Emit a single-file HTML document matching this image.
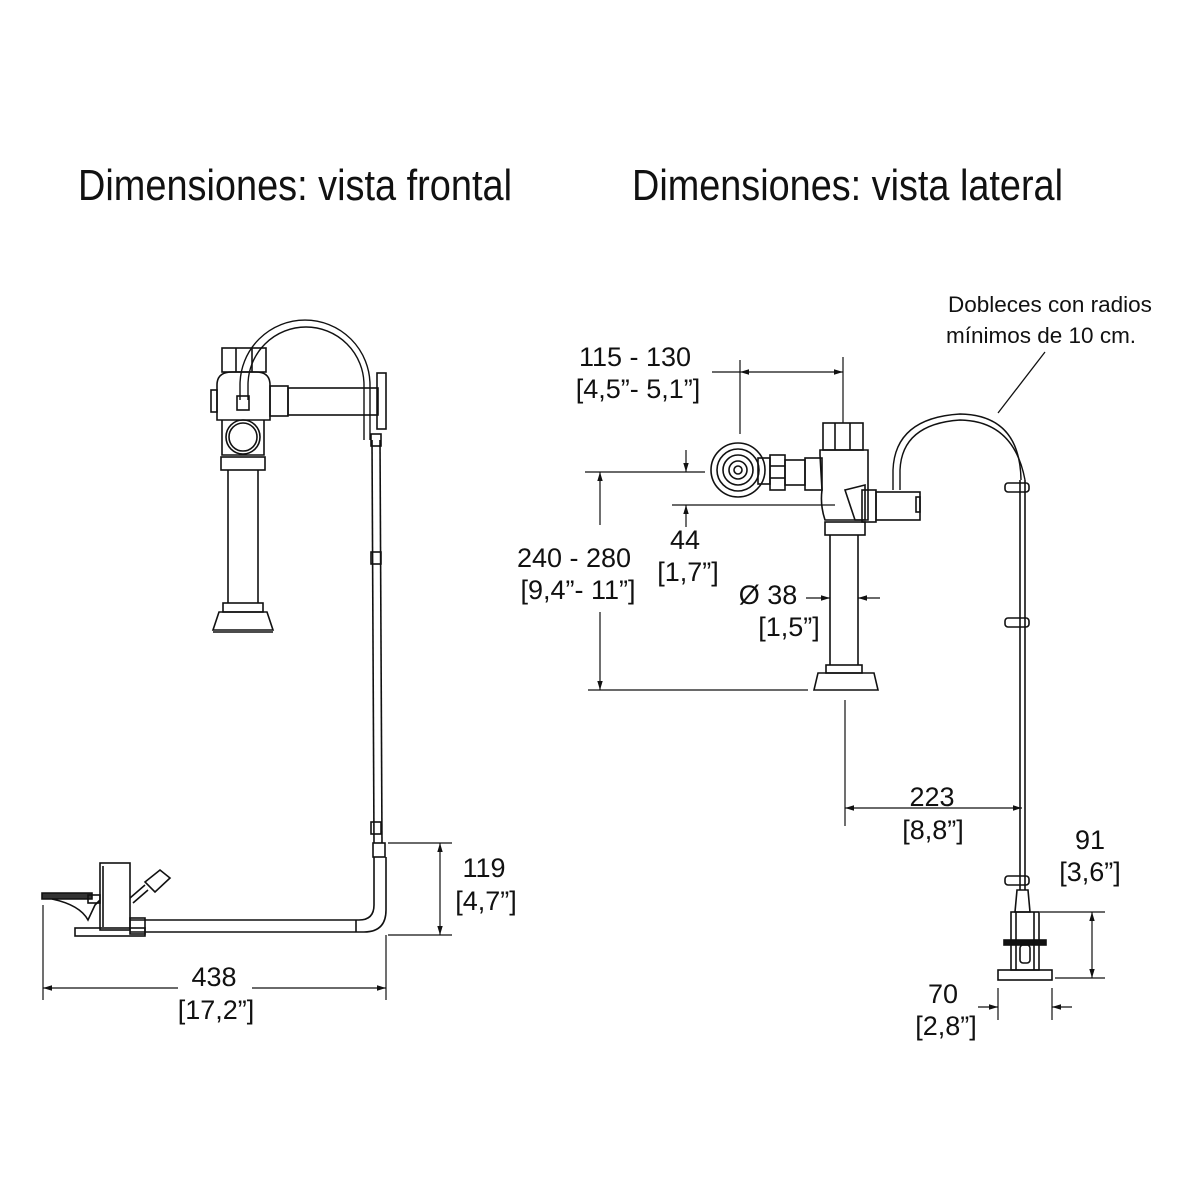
<!DOCTYPE html>
<html><head><meta charset="utf-8"><style>
html,body{margin:0;padding:0;background:#fff}
svg{display:block}
text{font-family:"Liberation Sans",sans-serif;fill:#111}
</style></head><body>
<svg width="1200" height="1200" viewBox="0 0 1200 1200" xmlns="http://www.w3.org/2000/svg">
<defs>
<marker id="a" viewBox="0 0 10 10" refX="10" refY="5" markerWidth="9" markerHeight="9" orient="auto-start-reverse" markerUnits="userSpaceOnUse"><path d="M0,2 L10,5 L0,8 z" fill="#111"/></marker>
</defs>
<rect width="1200" height="1200" fill="#fff"/>
<text x="78" y="200" font-size="44" textLength="434" lengthAdjust="spacingAndGlyphs">Dimensiones: vista frontal</text>
<text x="632" y="200" font-size="44" textLength="431" lengthAdjust="spacingAndGlyphs">Dimensiones: vista lateral</text>

<g fill="none" stroke="#111" stroke-width="1.6">
<rect x="222" y="348" width="44" height="24"/>
<line x1="236" y1="348" x2="236" y2="372"/><line x1="252" y1="348" x2="252" y2="372"/>
<path d="M217,420 L217,385 Q217,372 232,372 L256,372 Q270,372 270,385 L270,420 Z"/>
<rect x="211" y="390" width="6" height="22"/>
<rect x="270" y="386" width="18" height="30"/>
<rect x="288" y="388" width="90" height="27"/>
<rect x="377" y="373" width="9" height="56"/>
<path d="M222,420 L222,455 L264,455 L264,420"/>
<circle cx="243" cy="437" r="17"/><circle cx="243" cy="437" r="14"/>
<rect x="237" y="396" width="12" height="14"/>
<rect x="221" y="457" width="44" height="13"/>
<line x1="228" y1="470" x2="228" y2="603"/><line x1="258" y1="470" x2="258" y2="603"/>
<rect x="223" y="603" width="40" height="9"/>
<path d="M219,612 L267,612 L273,630 L213,630 Z"/>
<line x1="213" y1="632" x2="273" y2="632"/>
<path d="M240,400 L240,385 A65,65 0 0 1 370,385 L370,440" stroke-width="1.4"/>
<path d="M248,400 L248,385 A58,58 0 0 1 364,385 L364,440" stroke-width="1.4"/>
<line x1="372" y1="440" x2="374" y2="843"/><line x1="380" y1="440" x2="382" y2="843"/>
<rect x="371" y="434" width="10" height="12"/>
<rect x="371" y="552" width="10" height="12"/>
<rect x="371" y="822" width="10" height="12"/>
<rect x="373" y="843" width="12" height="14"/>
<path d="M374,857 L374,905 Q374,920 359,920 L130,920"/>
<path d="M386,857 L386,910 Q386,932 364,932 L130,932"/>
<line x1="356" y1="920" x2="356" y2="932"/>
<rect x="130" y="918" width="15" height="16"/>
<rect x="100" y="863" width="30" height="67"/>
<line x1="103" y1="866" x2="103" y2="927"/>
<rect x="75" y="928" width="70" height="8"/>
<path d="M42,893 L92,893 L92,899 L42,899 Z" fill="#333"/>
<path d="M52,899 Q80,905 88,920 L95,905 L100,900"/>
<rect x="88" y="895" width="12" height="8"/>
<path d="M130,898 L145,885 M133,903 L148,890"/>
<path d="M145,882 L160,870 L170,878 L155,892 Z"/>
<line x1="388" y1="843" x2="452" y2="843" stroke-width="1.2"/>
<line x1="388" y1="935" x2="452" y2="935" stroke-width="1.2"/>
<line x1="440" y1="843" x2="440" y2="935" stroke-width="1.2" marker-start="url(#a)" marker-end="url(#a)"/>
<line x1="43" y1="905" x2="43" y2="1000" stroke-width="1.2"/>
<line x1="386" y1="935" x2="386" y2="1000" stroke-width="1.2"/>
<line x1="43" y1="988" x2="178" y2="988" stroke-width="1.2" marker-start="url(#a)"/>
<line x1="252" y1="988" x2="386" y2="988" stroke-width="1.2" marker-end="url(#a)"/>

<circle cx="738" cy="470" r="27"/><circle cx="738" cy="470" r="21"/><circle cx="738" cy="470" r="15"/><circle cx="738" cy="470" r="9"/><circle cx="738" cy="470" r="4"/>
<rect x="758" y="458" width="12" height="26"/>
<rect x="770" y="455" width="15" height="35"/>
<line x1="770" y1="466" x2="785" y2="466"/><line x1="770" y1="478" x2="785" y2="478"/>
<rect x="785" y="460" width="20" height="25"/>
<rect x="805" y="458" width="17" height="32"/>
<rect x="823" y="423" width="40" height="27"/>
<line x1="835" y1="423" x2="835" y2="450"/><line x1="850" y1="423" x2="850" y2="450"/>
<path d="M820,450 L868,450 L868,520 L825,520 Q820,505 822,490 L820,455 Z"/>
<path d="M845,490 L865,485 L865,520 L855,520 Z"/>
<rect x="862" y="490" width="14" height="32"/>
<rect x="876" y="492" width="44" height="28"/>
<rect x="916" y="497" width="4" height="15"/>
<rect x="825" y="522" width="40" height="13"/>
<line x1="830" y1="535" x2="830" y2="665"/><line x1="858" y1="535" x2="858" y2="665"/>
<rect x="826" y="665" width="36" height="8"/>
<path d="M818,673 L874,673 L878,690 L814,690 Z"/>
<path d="M893,490 L893,470 Q895,418 960,414 Q1020,415 1021,480" stroke-width="1.4"/>
<path d="M900,490 L900,470 Q902,424 960,420 Q1014,421 1025,480" stroke-width="1.4"/>
<line x1="1020" y1="480" x2="1020" y2="890"/><line x1="1025" y1="480" x2="1025" y2="890"/>
<rect x="1005" y="483" width="24" height="9" rx="3"/>
<rect x="1005" y="618" width="24" height="9" rx="3"/>
<rect x="1005" y="876" width="24" height="9" rx="3"/>
<path d="M1017,890 L1028,890 L1030,912 L1015,912 Z"/>
<rect x="1011" y="912" width="28" height="58"/>
<rect x="1004" y="940" width="42" height="5" fill="#111"/>
<line x1="1016" y1="912" x2="1016" y2="970"/><line x1="1034" y1="912" x2="1034" y2="970"/>
<rect x="1020" y="945" width="10" height="18" rx="3"/>
<rect x="998" y="970" width="54" height="10"/>
<line x1="1045" y1="352" x2="998" y2="413" stroke-width="1.3"/>
<g stroke-width="1.2">
<line x1="740" y1="360" x2="740" y2="434"/>
<line x1="843" y1="357" x2="843" y2="423"/>
<line x1="712" y1="372" x2="740" y2="372"/>
<line x1="740" y1="372" x2="843" y2="372" marker-start="url(#a)" marker-end="url(#a)"/>
<line x1="585" y1="472" x2="705" y2="472"/>
<line x1="672" y1="505" x2="835" y2="505"/>
<line x1="686" y1="450" x2="686" y2="472" marker-end="url(#a)"/>
<line x1="686" y1="527" x2="686" y2="505" marker-end="url(#a)"/>
<line x1="588" y1="690" x2="808" y2="690"/>
<line x1="600" y1="525" x2="600" y2="472" marker-end="url(#a)"/>
<line x1="600" y1="612" x2="600" y2="690" marker-end="url(#a)"/>
<line x1="806" y1="598" x2="830" y2="598" marker-end="url(#a)"/>
<line x1="880" y1="598" x2="858" y2="598" marker-end="url(#a)"/>
<line x1="845" y1="700" x2="845" y2="826"/>
<line x1="845" y1="808" x2="1022" y2="808" marker-start="url(#a)" marker-end="url(#a)"/>
<line x1="1040" y1="912" x2="1105" y2="912"/>
<line x1="1055" y1="978" x2="1105" y2="978"/>
<line x1="1092" y1="912" x2="1092" y2="978" marker-start="url(#a)" marker-end="url(#a)"/>
<line x1="998" y1="988" x2="998" y2="1020"/>
<line x1="1052" y1="988" x2="1052" y2="1020"/>
<line x1="978" y1="1007" x2="998" y2="1007" marker-end="url(#a)"/>
<line x1="1072" y1="1007" x2="1052" y2="1007" marker-end="url(#a)"/>
</g>
</g>

<g font-size="27" text-anchor="middle">
<text x="484" y="877">119</text>
<text x="486" y="910">[4,7”]</text>
<text x="214" y="986">438</text>
<text x="216" y="1019">[17,2”]</text>
<text x="635" y="366">115 - 130</text>
<text x="638" y="398">[4,5”- 5,1”]</text>
<text x="685" y="549">44</text>
<text x="688" y="581">[1,7”]</text>
<text x="574" y="567">240 - 280</text>
<text x="578" y="599">[9,4”- 11”]</text>
<text x="768" y="604">Ø 38</text>
<text x="789" y="636">[1,5”]</text>
<text x="932" y="806">223</text>
<text x="933" y="839">[8,8”]</text>
<text x="1090" y="849">91</text>
<text x="1090" y="881">[3,6”]</text>
<text x="943" y="1003">70</text>
<text x="946" y="1035">[2,8”]</text>
</g>
<g font-size="22.5">
<text x="948" y="312">Dobleces con radios</text>
<text x="946" y="343">mínimos de 10 cm.</text>
</g>
</svg>
</body></html>
